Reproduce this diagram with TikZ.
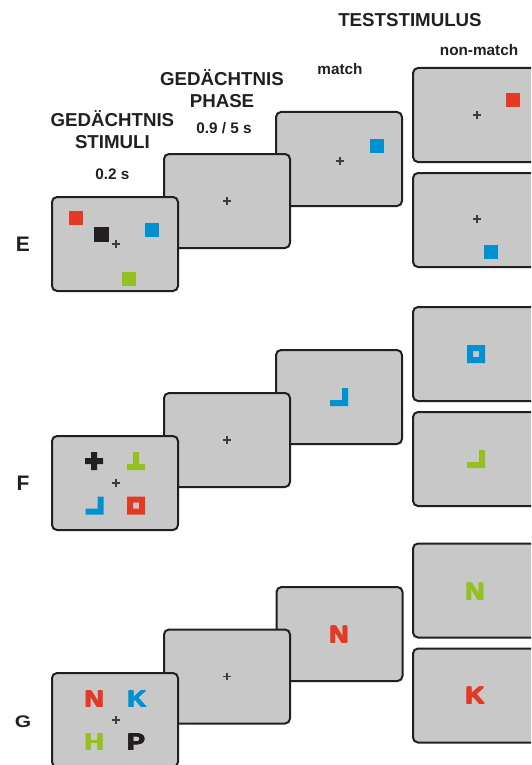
\documentclass[tikz,border=0pt]{standalone}
\usepackage{fontspec}
\setmainfont{Liberation Sans}
\definecolor{cred}{RGB}{226,58,36}
\definecolor{cblue}{RGB}{0,146,208}
\definecolor{cgreen}{RGB}{148,193,31}
\definecolor{cblack}{RGB}{35,31,32}
\definecolor{cpanel}{RGB}{200,200,200}
\definecolor{ccross}{RGB}{60,60,60}
\newcommand\heavyletter[1]{\scalebox{1.1}[1]{%
  \rlap{#1}\rlap{\raisebox{0.6pt}{#1}}\kern0.6pt%
  \rlap{#1}\rlap{\raisebox{0.6pt}{#1}}\kern0.6pt%
  \rlap{\raisebox{0.6pt}{#1}}#1}}
\begin{document}
\begin{tikzpicture}[x=1pt,y=-1pt,
  panel/.style={draw=cblack, fill=cpanel, line width=2pt, rounded corners=5pt,
    minimum width=126pt, minimum height=94pt, inner sep=0pt},
  head/.style={anchor=base, text=cblack, inner sep=0pt, font=\fontsize{18.7}{20}\selectfont\bfseries},
  sub/.style={anchor=base, text=cblack, inner sep=0pt, font=\fontsize{15.3}{17}\selectfont\bfseries},
  rowlab/.style={anchor=base, text=cblack, inner sep=0pt, font=\fontsize{21}{22}\selectfont\bfseries},
  letter/.style={anchor=base, inner sep=0pt, font=\fontsize{24}{25}\selectfont\bfseries},
  fixcross/.pic={\draw[ccross, line width=1.2pt] (-3.8,0)--(3.8,0) (0,-3.8)--(0,3.8);},
  plusshape/.pic={\fill (-9,-3) rectangle (9,3) (-3,-9) rectangle (3,9);},
  tshape/.pic={\fill (-3,-9) rectangle (3,3) (-9,3) rectangle (9,9);},
  lshape/.pic={\fill (3,-9) rectangle (9,9) (-9,3) rectangle (9,9);},
  ringshape/.pic={\fill[even odd rule] (-9,-9) rectangle (9,9) (-3,-3) rectangle (3,3);}
]
\path[use as bounding box] (0,0) rectangle (531,765);
\clip (0,0) rectangle (531,765);

% ---------- headings ----------
\node[head] (tt) at (410,26.4) {TESTSTIMULUS};
\node[sub] (nm) at (479,56) {non-match};
\node[sub] (ma) at (340,74.6) {match};
\node[head] (gp1) at (222,85.4) {GEDÄCHTNIS};
\node[head] (gp2) at (222,107) {PHASE};
\node[sub] (gpt) at (224,133) {0.9 / 5 s};
\node[head] (gs1) at (112.4,126.4) {GEDÄCHTNIS};
\node[head] (gs2) at (112.4,148) {STIMULI};
\node[sub] (gst) at (112.4,179) {0.2 s};

% ---------- row E ----------
\node[panel] (EnA) at (476,115) {};
\begin{scope}[shift={(EnA.center)}]
  \pic at (1,0) {fixcross};
  \fill[cred] (30,-22) rectangle (44,-8);
\end{scope}
\node[panel] (EnB) at (476,220) {};
\begin{scope}[shift={(EnB.center)}]
  \pic at (1,-1) {fixcross};
  \fill[cblue] (8,25) rectangle (22,39);
\end{scope}
\node[panel] (Em) at (339,159) {};
\begin{scope}[shift={(Em.center)}]
  \pic at (1,2) {fixcross};
  \fill[cblue] (31,-20) rectangle (45,-6);
\end{scope}
\node[panel] (Ed) at (227,201) {};
\pic at (Ed.center) {fixcross};
\node[panel] (Es) at (115,244) {};
\begin{scope}[shift={(Es.center)}]
  \pic at (1,0) {fixcross};
  \fill[cred] (-46,-33) rectangle (-32,-19);
  \fill[cblack] (-21,-17) rectangle (-6,-2);
  \fill[cblue] (30,-21.5) rectangle (44,-7.5);
  \fill[cgreen] (6.5,28) rectangle (20.5,42);
\end{scope}
\node[rowlab] (labE) at (23,251) {E};

% ---------- row F ----------
\node[panel] (FnA) at (476,354) {};
\pic[cblue] at (FnA.center) {ringshape};
\node[panel] (FnB) at (476,459) {};
\pic[cgreen] at (FnB.center) {lshape};
\node[panel] (Fm) at (339,397) {};
\pic[cblue] at (Fm.center) {lshape};
\node[panel] (Fd) at (227,440) {};
\pic at (Fd.center) {fixcross};
\node[panel] (Fs) at (115,483) {};
\begin{scope}[shift={(Fs.center)}]
  \pic at (1,0) {fixcross};
  \pic[cblack] at (-21,-22) {plusshape};
  \pic[cgreen] at (21,-22) {tshape};
  \pic[cblue] at (-20.5,22.5) {lshape};
  \pic[cred] at (21,22.5) {ringshape};
\end{scope}
\node[rowlab] (labF) at (23,490) {F};

% ---------- row G ----------
\node[panel] (GnA) at (476,590.5) {};
\node[letter, text=cgreen] (GnAl) at (475,600) {\heavyletter{N}};
\node[panel] (GnB) at (476,695.5) {};
\node[letter, text=cred] (GnBl) at (475,704.3) {\heavyletter{K}};
\node[panel] (Gm) at (339.5,634) {};
\node[letter, text=cred] (Gml) at (339,643.3) {\heavyletter{N}};
\node[panel] (Gd) at (227,676.5) {};
\pic at (Gd.center) {fixcross};
\node[panel] (Gs) at (115,720) {};
\pic at (116,720) {fixcross};
\node[letter, text=cred] (gN) at (94.2,707.7) {\heavyletter{N}};
\node[letter, text=cblue] (gK) at (137,707.7) {\heavyletter{K}};
\node[letter, text=cgreen] (gH) at (94.2,750.7) {\heavyletter{H}};
\node[letter, text=cblack] (gP) at (136,750.7) {\heavyletter{P}};
\node[rowlab] (labG) at (23,727) {\scalebox{1}[0.8]{G}};
\end{tikzpicture}
\end{document}
